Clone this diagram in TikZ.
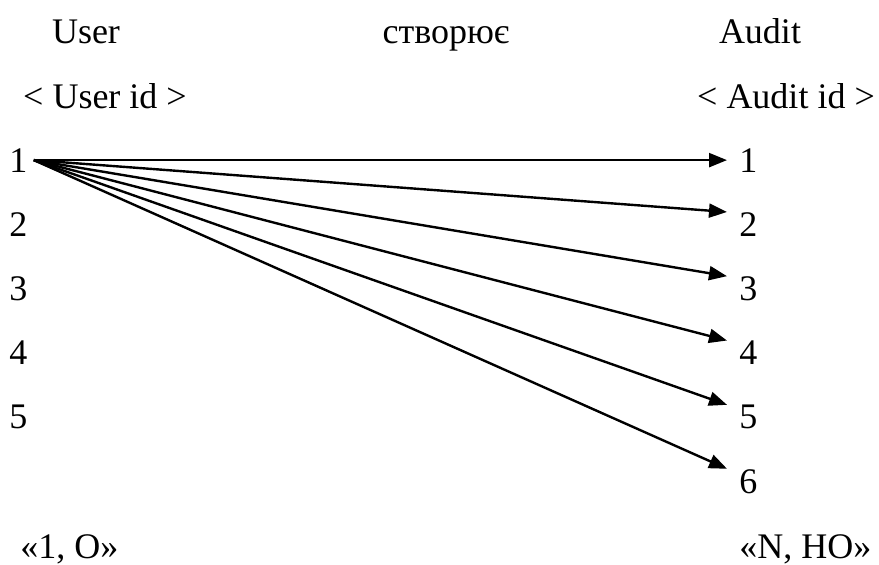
\documentclass[tikz,border=0pt]{standalone}
\usepackage{fontspec}
\setmainfont{Liberation Serif}
\usetikzlibrary{arrows.meta}
\begin{document}
\begin{tikzpicture}[x=0.5pt, y=-0.5pt, font=\fontsize{18}{22}\selectfont,
	every node/.style={inner sep=3pt},
	pravo/.style={anchor=base west, inner xsep=6pt, inner ysep=0pt},
	zv/.style={-{Triangle[length=9pt,width=7pt]}, line width=1.2pt}]
\useasboundingbox (0,0) rectangle (879,564);

% Заголовки
\node[anchor=base] (user) at (86,43) {User};
\node[anchor=base] (rel) at (446,43) {створює};
\node[anchor=base] (audit) at (760,43) {Audit};
\node[anchor=base] (userid) at (105,108) {< User id >};
\node[anchor=base] (auditid) at (786,108) {< Audit id >};

% Ліва множина
	\foreach \i in {1,...,5}
		\node[anchor=base west] (l\i) at (3,{172+64*(\i-1)}) {\i};

% Права множина
	\foreach \i in {1,...,6}
		\node[pravo] (r\i) at (727,{172+64.2*(\i-1)}) {\i};

\node[anchor=base west] (lk) at (14,558) {«1, О»};
\node[anchor=base west] (rk) at (733,558) {«N, НО»};

% Зв'язки
\draw[zv] (l1.east) -- (r1.west);
	\foreach \i in {2,...,6}
		\draw[zv] (l1.east) -- (r\i.north west);
\end{tikzpicture}
\end{document}
